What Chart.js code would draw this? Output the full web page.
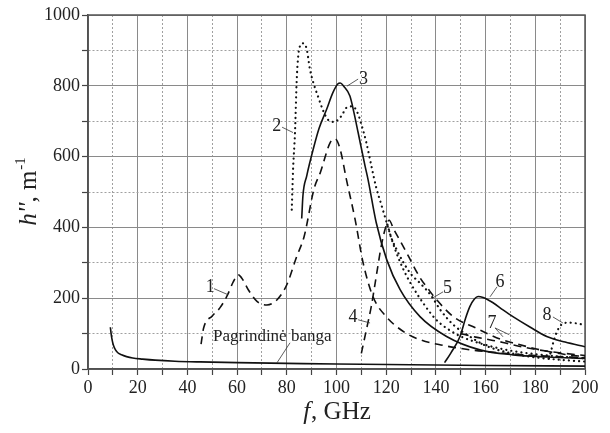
<!DOCTYPE html>
<html>
<head>
<meta charset="utf-8">
<title>h'' vs f</title>
<script src="https://cdn.jsdelivr.net/npm/chart.js"></script>
<style>
  html, body { margin: 0; padding: 0; background: #fff; }
  #wrap { width: 610px; height: 433px; }
</style>
</head>
<body>
<div id="wrap"><canvas id="chart" width="610" height="433"></canvas></div>
<script>
// data (f in GHz, h'' in 1/m)
const fBase = [9, 9.3, 9.7, 10.2, 11, 12, 13.5, 15.5, 18, 22, 27, 35, 45, 60, 80, 100, 130, 160, 200];
const hBase = [118, 100, 82, 68, 55, 46, 40, 35, 31, 28, 25, 22, 20, 18, 16, 14, 12, 10, 8];

const f1 = [45.5, 46.5, 50, 53, 56, 58.5, 60.5, 62.5, 64.5, 68, 72, 76, 80, 84, 87, 91, 93.5, 97.5, 99.5, 101.5, 104, 107.5, 110.7, 114.7, 120, 128, 134, 142, 154, 165, 180, 200];
const h1 = [70, 115, 150, 172, 207, 247, 266, 250, 224, 191, 181, 195, 238, 318, 375, 510, 555, 640, 650, 620, 535, 422, 300, 204, 148, 101, 82, 68, 54, 46, 38, 32];

const f2 = [82, 82.5, 83.3, 84, 85, 86.5, 88, 89.3, 92.5, 96.5, 99, 102, 104, 106.5, 108.7, 110, 112, 114, 116, 118, 120, 122, 124, 127, 130, 135, 140, 145, 150, 160, 170, 180, 190, 200];
const h2 = [450, 560, 668, 819, 905, 920, 904, 847, 771, 705, 698, 715, 738, 742, 720, 691, 640, 575, 512, 465, 418, 371, 330, 280, 240, 185, 140, 112, 92, 68, 52, 42, 35, 30];

const f3 = [86, 86.5, 88, 90.6, 93, 96, 98.5, 100.5, 101.5, 103, 105.4, 107, 108.7, 111.5, 112.7, 116, 120.2, 125.6, 133.6, 144.3, 157.7, 171, 185, 200];
const h3 = [425, 490, 545, 620, 680, 733, 780, 805, 808, 798, 771, 725, 668, 573, 535, 413, 309, 224, 148, 92, 54, 40, 34, 30];

const f4 = [110, 112, 114, 116, 118, 120, 121.2, 123, 126, 129, 133.6, 137, 140, 147, 156, 166, 172, 182, 192, 200];
const h4 = [44, 110, 177, 262, 347, 405, 420, 395, 357, 318, 258, 225, 198, 148, 116, 84, 72, 54, 41, 35];

const f5 = [120.5, 122, 124, 127, 130, 134, 138, 142, 147, 153, 160, 170, 180, 190, 200];
const h5 = [408, 372, 340, 300, 268, 240, 208, 165, 125, 95, 66, 45, 33, 26, 21];

const f6 = [143.5, 146, 149.7, 152, 153.7, 155.5, 157, 159, 163, 167, 171, 178, 184.6, 192, 200];
const h6 = [18, 45, 92, 145, 177, 198, 205, 202, 187, 167, 148, 118, 92, 76, 63];

const f7 = [150, 156, 162, 167, 175, 185, 200];
const h7 = [100, 90, 82, 75, 62, 50, 38];

const f8 = [185.5, 186.5, 187.5, 189, 190.5, 193, 196.5, 200];
const h8 = [30, 55, 82, 110, 125, 131, 129, 124];

const xTicks = [0, 20, 40, 60, 80, 100, 120, 140, 160, 180, 200];
const yTicks = [0, 200, 400, 600, 800, 1000];

// curve labels: text, text position (f, h), leader from -> to
const notes = [
  { t: '1', f: 49.2, h: 232, lines: [[50.7, 227, 56.3, 210]] },
  { t: '2', f: 76, h: 685, lines: [[78.1, 683, 82.5, 668]] },
  { t: '3', f: 110.9, h: 819, lines: [[108.7, 819, 104.2, 799]] },
  { t: '4', f: 106.6, h: 147, lines: [[108.7, 139, 113.5, 130]] },
  { t: '5', f: 144.7, h: 229, lines: [[142.9, 218, 138.8, 201]] },
  { t: '6', f: 165.8, h: 246, lines: [[164.6, 232, 161.8, 204]] },
  { t: '7', f: 162.6, h: 130, lines: [[163.8, 116, 167, 91], [163.8, 116, 169.5, 97]] },
  { t: '8', f: 184.7, h: 153, lines: [[187.1, 147, 191.1, 130]] },
  { t: 'Pagrindinė banga', f: 50.3, h: 91, left: true, lines: [[81.3, 74, 76, 17]] }
];

function pts(fs, hs) {
  return fs.map((f, i) => ({ x: f, y: hs[i] }));
}

const SERIF = '"Liberation Serif", "DejaVu Serif", serif';
const DOT = [0.1, 5];
const DASH = [8, 5.5];

function line(data, dash, width) {
  return {
    data: data,
    borderColor: '#111',
    borderWidth: width || 1.6,
    borderDash: dash,
    borderCapStyle: dash.length && dash[0] < 2 ? 'round' : 'butt',
    pointRadius: 0,
    fill: false,
    cubicInterpolationMode: 'monotone'
  };
}

const decor = {
  id: 'decor',
  beforeDatasetsDraw(chart) {
    const { ctx, chartArea: a } = chart;
    ctx.save();
    ctx.strokeStyle = '#555';
    ctx.lineWidth = 1.5;
    ctx.strokeRect(a.left, a.top, a.right - a.left, a.bottom - a.top);
    ctx.restore();
  },
  afterDraw(chart) {
    const { ctx, chartArea: a } = chart;
    const xs = chart.scales.x, ys = chart.scales.y;
    ctx.save();
    ctx.fillStyle = '#222';
    ctx.strokeStyle = '#333';
    ctx.lineWidth = 0.8;
    ctx.textBaseline = 'middle';
    notes.forEach(n => {
      ctx.font = (n.left ? '17px ' : '18px ') + SERIF;
      ctx.textAlign = n.left ? 'left' : 'center';
      ctx.fillText(n.t, xs.getPixelForValue(n.f), ys.getPixelForValue(n.h));
      n.lines.forEach(l => {
        ctx.beginPath();
        ctx.moveTo(xs.getPixelForValue(l[0]), ys.getPixelForValue(l[1]));
        ctx.lineTo(xs.getPixelForValue(l[2]), ys.getPixelForValue(l[3]));
        ctx.stroke();
      });
    });

    // x axis title: f, GHz
    ctx.textAlign = 'left';
    ctx.textBaseline = 'alphabetic';
    const it = 'italic 25px ' + SERIF, rm = '25px ' + SERIF, sm = '15px ' + SERIF;
    ctx.font = it;
    const wf = ctx.measureText('f').width;
    ctx.font = rm;
    const wg = ctx.measureText(', GHz').width;
    let x0 = (a.left + a.right) / 2 - (wf + wg) / 2;
    ctx.font = it; ctx.fillText('f', x0, 419);
    ctx.font = rm; ctx.fillText(', GHz', x0 + wf + 1, 419);

    // y axis title: h'', m-1
    ctx.translate(36, (a.top + a.bottom) / 2);
    ctx.rotate(-Math.PI / 2);
    ctx.font = it;
    const wh = ctx.measureText("h''").width;
    ctx.font = rm;
    const wm = ctx.measureText(', m').width;
    ctx.font = sm;
    const ws = ctx.measureText('-1').width;
    let y0 = -(wh + wm + ws) / 2;
    ctx.font = it; ctx.fillText("h''", y0, 0);
    ctx.font = rm; ctx.fillText(', m', y0 + wh, 0);
    ctx.font = sm; ctx.fillText('-1', y0 + wh + wm + 1, -11);
    ctx.restore();
  }
};

function gridOpts() {
  return {
    color: c => (c.tick && c.tick.value % 20 !== 0 && c.scale.axis === 'x') || (c.tick && c.tick.value % 200 !== 0 && c.scale.axis === 'y') ? '#a0a0a0' : '#8a8a8a',
    lineWidth: 1,
    drawTicks: true,
    tickLength: 6,
    tickColor: '#444',
    tickWidth: 1.2,
    tickBorderDash: []
  };
}

new Chart(document.getElementById('chart'), {
  type: 'line',
  data: {
    datasets: [
      line(pts(fBase, hBase), []),
      line(pts(f1, h1), DASH),
      line(pts(f2, h2), DOT, 2.2),
      line(pts(f3, h3), []),
      line(pts(f4, h4), DASH),
      line(pts(f5, h5), DOT, 2.2),
      line(pts(f6, h6), []),
      line(pts(f7, h7), DASH),
      line(pts(f8, h8), DOT, 2.2)
    ]
  },
  options: {
    responsive: false,
    animation: false,
    layout: { padding: { top: 15, right: 25, left: 0, bottom: 0 } },
    plugins: { legend: { display: false }, tooltip: { enabled: false } },
    scales: {
      x: {
        type: 'linear',
        min: 0, max: 200,
        afterFit: s => { s.height = 64; },
        ticks: {
          stepSize: 10,
          autoSkip: false,
          maxRotation: 0,
          padding: 2,
          color: '#222',
          font: { family: SERIF, size: 18 },
          callback: v => xTicks.includes(v) ? String(v) : ''
        },
        grid: gridOpts(),
        border: {
          display: true, color: '#444', width: 1.5,
          dash: c => (c.tick && c.tick.value % 20 !== 0) ? [2, 2] : []
        }
      },
      y: {
        type: 'linear',
        min: 0, max: 1000,
        afterFit: s => { s.width = 88; },
        ticks: {
          stepSize: 100,
          autoSkip: false,
          padding: 2,
          color: '#222',
          font: { family: SERIF, size: 18 },
          callback: v => yTicks.includes(v) ? String(v) : ''
        },
        grid: gridOpts(),
        border: {
          display: true, color: '#444', width: 1.5,
          dash: c => (c.tick && c.tick.value % 200 !== 0) ? [2, 2] : []
        }
      }
    }
  },
  plugins: [decor]
});
</script>
</body>
</html>
